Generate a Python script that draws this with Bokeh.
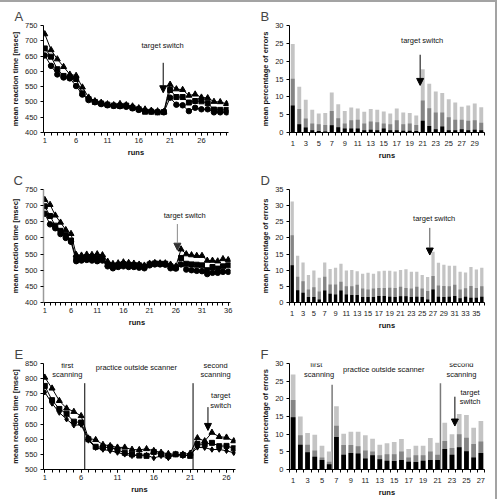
from bokeh.plotting import figure
from bokeh.layouts import column, row
from bokeh.models import FixedTicker, Arrow, NormalHead, Label, Spacer, AllLabels
from bokeh.embed import file_html
from bokeh.resources import INLINE

FONT = "Liberation Sans"
LIGHT = "#c4c4c4"
DARK = "#858585"
BLACK = "#000000"
FRAME_GRAY = "#a3a3a3"

# ---------------- Experiment 1 (panels A, B) ----------------
runs_1 = list(range(1, 31))
rt1_high = [722, 670, 640, 615, 590, 586, 548, 515, 503, 498, 493, 490, 494, 490, 486,
            480, 476, 472, 470, 468, 557, 542, 540, 521, 525, 515, 513, 501, 500, 494]
rt1_mid = [675, 648, 607, 585, 580, 575, 528, 509, 500, 495, 491, 488, 487, 488, 481,
           476, 468, 468, 466, 467, 539, 516, 516, 498, 503, 502, 496, 475, 474, 474]
rt1_low = [652, 618, 590, 580, 577, 552, 524, 506, 499, 493, 489, 487, 486, 484, 479,
           474, 471, 469, 467, 466, 514, 491, 489, 470, 481, 476, 476, 466, 466, 466]
err1_black = [7.6, 2.3, 1.4, 0.6, 0.4, 0.3, 2.0, 1.5, 1.1, 1.1, 1.1, 0.6, 0.8, 0.6, 1.1,
              0.6, 0.6, 0.5, 0.5, 0.4, 3.3, 1.8, 0.9, 1.7, 0.6, 0.6, 0.9, 0.6, 0.8, 0.6]
err1_dark = [15.1, 6.6, 3.9, 2.5, 2.3, 2.1, 6.0, 4.0, 2.5, 3.4, 3.6, 2.5, 3.1, 2.9, 2.5,
             2.3, 3.4, 2.3, 2.5, 2.1, 9.0, 6.8, 5.6, 5.6, 4.3, 3.6, 3.6, 3.3, 3.4, 2.7]
err1_light = [24.8, 12.8, 9.2, 6.4, 5.3, 5.5, 11.2, 7.9, 6.0, 7.0, 6.7, 5.8, 6.6, 6.4, 5.9,
              5.3, 6.7, 5.6, 5.5, 4.8, 17.7, 13.7, 11.5, 11.1, 9.3, 8.4, 7.2, 7.6, 8.1, 7.1]

# ---------------- Experiment 2 (panels C, D) ----------------
runs_2 = list(range(1, 37))
rt2_high = [718, 703, 670, 648, 625, 613, 548, 546, 549, 548, 550, 547, 527, 520, 522, 525, 523, 521,
            518, 515, 521, 523, 522, 522, 518, 512, 565, 550, 547, 545, 545, 530, 530, 528, 535, 532]
rt2_mid = [698, 668, 638, 622, 610, 592, 537, 536, 540, 538, 537, 538, 518, 513, 516, 519, 517, 516,
           515, 511, 518, 521, 520, 520, 512, 508, 538, 520, 518, 517, 515, 500, 510, 505, 512, 515]
rt2_low = [675, 642, 630, 612, 600, 588, 528, 530, 532, 530, 528, 530, 512, 506, 510, 512, 510, 510,
           508, 506, 515, 518, 518, 517, 506, 505, 518, 502, 500, 498, 497, 488, 492, 492, 495, 495]
err2_black = [11.5, 3.8, 3.0, 1.7, 1.7, 0.9, 3.7, 2.7, 2.5, 3.7, 2.5, 2.3, 2.3, 1.7, 1.7, 1.7, 2.0, 2.0,
              1.8, 1.7, 1.9, 1.9, 1.7, 1.8, 1.7, 0.9, 4.0, 1.8, 1.7, 1.8, 2.0, 1.3, 1.8, 1.5, 1.5, 1.8]
err2_dark = [20.8, 8.0, 6.6, 4.0, 4.7, 3.4, 8.0, 5.6, 5.6, 6.4, 5.0, 5.0, 5.5, 4.3, 4.0, 4.3, 4.5, 4.5,
             4.6, 4.5, 4.9, 4.5, 4.3, 4.9, 4.3, 3.6, 8.2, 5.3, 5.1, 5.0, 5.5, 4.0, 4.4, 5.1, 4.5, 5.0]
err2_light = [31.3, 14.5, 12.4, 8.5, 9.9, 7.7, 12.4, 10.4, 10.8, 12.0, 9.9, 10.1, 9.7, 8.9, 9.2, 8.9, 9.7, 9.8,
              9.8, 9.6, 10.1, 10.3, 9.5, 9.5, 8.5, 7.9, 15.7, 12.3, 11.7, 11.4, 11.4, 9.5, 9.3, 11.0, 10.2, 10.8]

# ---------------- Experiment 3 (panels E, F) ----------------
runs_3 = list(range(1, 28))
rt3_high = [804, 768, 727, 702, 691, 677, 603, 598, 582, 578, 573, 573, 566, 565,
            568, 562, 556, 552, 550, 550, 553, 604, 594, 622, 608, 606, 594]
rt3_mid = [776, 729, 700, 684, 658, 655, 600, 575, 573, 573, 565, 555, 550, 546,
           545, 558, 550, 545, 550, 548, 545, 584, 583, 588, 577, 578, 570]
rt3_low = [755, 718, 688, 666, 646, 648, 596, 572, 566, 562, 556, 550, 545, 548,
           548, 538, 545, 538, 550, 545, 548, 573, 572, 566, 566, 562, 555]
err3_black = [14.8, 7.0, 4.9, 3.6, 2.7, 1.5, 9.2, 4.2, 4.7, 4.5, 3.1, 4.0, 2.9, 2.5,
              2.4, 2.7, 2.2, 2.1, 2.5, 2.7, 2.7, 5.8, 4.2, 6.3, 5.2, 3.4, 4.7]
err3_dark = [19.7, 9.7, 7.0, 5.4, 3.4, 2.2, 12.4, 6.9, 6.9, 6.6, 5.4, 5.1, 4.0, 4.3,
             4.3, 5.1, 3.4, 4.0, 4.0, 5.1, 4.2, 8.1, 6.1, 10.0, 9.0, 7.2, 7.9]
err3_light = [26.9, 15.0, 10.3, 9.8, 6.7, 5.1, 17.9, 10.1, 10.7, 10.7, 9.7, 8.7, 7.0, 7.4,
              7.8, 8.6, 5.8, 6.7, 6.7, 8.9, 7.6, 13.2, 10.0, 15.7, 15.4, 11.8, 13.7]
phase_bounds_rt = [6.5, 21.4]
phase_bounds_err = [6.4, 21.4]


def make_fig(w, h, lead, left, right, top, bottom, xr, yr, letter, ylabel, standoff=4):
    p = figure(width=w, height=h, x_range=xr, y_range=yr, title=letter,
               output_backend="svg", toolbar_location=None,
               min_border_left=left, min_border_right=right,
               min_border_top=top, min_border_bottom=bottom)
    p.title.text_font = FONT
    p.title.text_font_size = "13px"
    p.title.text_font_style = "normal"
    p.title.align = "left"
    p.title.offset = 12 - (lead + left)
    p.title.standoff = standoff
    p.xgrid.visible = False
    p.ygrid.visible = False
    p.outline_line_color = None
    for ax in (p.xaxis[0], p.yaxis[0]):
        ax.axis_line_color = BLACK
        ax.axis_line_width = 1
        ax.major_tick_line_color = BLACK
        ax.major_tick_in = 0
        ax.major_tick_out = 3
        ax.minor_tick_in = 0
        ax.minor_tick_out = 3
        ax.minor_tick_line_color = BLACK
        ax.major_label_text_font = FONT
        ax.major_label_text_font_size = "7.5px"
        ax.major_label_text_color = "#222222"
        ax.major_label_policy = AllLabels()
        ax.axis_label_text_font = FONT
        ax.axis_label_text_font_size = "7.5px"
        ax.axis_label_text_font_style = "bold"
        ax.axis_label_text_color = "#111111"
        ax.major_label_standoff = 3
        ax.axis_label_standoff = 2
    p.xaxis.major_label_standoff = 2
    p.xaxis.axis_label_standoff = 2
    p.yaxis.minor_tick_line_color = None
    p.yaxis.axis_label = ylabel
    p.xaxis.axis_label = "runs"
    return p


def rt_lines(p, x, high, mid, low, low_marker="circle"):
    for ys, marker, size in ((high, "triangle", 6), (mid, "square", 5), (low, low_marker, 5.5)):
        p.line(x, ys, line_color=BLACK, line_width=1)
        p.scatter(x, ys, marker=marker, size=size, fill_color=BLACK, line_color=BLACK)


def err_bars(p, x, black, dark, light, width=0.6):
    p.vbar(x=x, top=light, width=width, fill_color=LIGHT, line_color=None)
    p.vbar(x=x, top=dark, width=width, fill_color=DARK, line_color=None)
    p.vbar(x=x, top=black, width=width, fill_color=BLACK, line_color=None)


def line_xaxis(p, n, label_every=5):
    p.xaxis.ticker = FixedTicker(ticks=list(range(1, n + 1, label_every)),
                                 minor_ticks=list(range(1, n + 1)))


def bar_xaxis(p, n):
    p.xaxis.ticker = FixedTicker(ticks=list(range(1, n + 1, 2)),
                                 minor_ticks=[k + 0.5 for k in range(0, n + 1)])
    p.xaxis.major_tick_out = 0
    p.xaxis.major_tick_line_color = None
    p.xaxis.major_label_standoff = 5


def note(p, x, y, text, size="7.5px"):
    p.add_layout(Label(x=x, y=y, text=text, text_align="center", text_baseline="middle",
                       text_font=FONT, text_font_size=size, text_color="#111111"))


def arrow(p, x, y0, y1, color=BLACK, head=BLACK):
    p.add_layout(Arrow(end=NormalHead(size=7, fill_color=head, line_color=head),
                       x_start=x, y_start=y0, x_end=x, y_end=y1,
                       line_color=color, line_width=1))


RT_LABEL = "mean reaction time [msec]"
ERR_LABEL = "mean percentage of errors"
LEAD_L = 7    # blank strip left of the reaction-time panels
LEAD_R = 13   # blank strip left of the error panels
EDGE = 2      # grey page frame along the top and right

# Panel A
pA = make_fig(245 - LEAD_L, 162 - EDGE, LEAD_L, 41 - LEAD_L, 17, 24 - EDGE, 30,
              (0.795, 30.32), (400, 750), "A", RT_LABEL)
pA.yaxis.ticker = FixedTicker(ticks=list(range(400, 751, 50)))
line_xaxis(pA, 30)
rt_lines(pA, runs_1, rt1_high, rt1_mid, rt1_low)
note(pA, 19.8, 684, "target switch")
arrow(pA, 19.9, 628, 530)

# Panel B
pB = make_fig(252 - LEAD_R - EDGE, 162 - EDGE, LEAD_R, 41 - LEAD_R, 13 - EDGE, 25 - EDGE, 30,
              (0.5, 30.5), (0, 30), "B", ERR_LABEL)
pB.yaxis.ticker = FixedTicker(ticks=list(range(0, 31, 5)))
bar_xaxis(pB, 30)
err_bars(pB, runs_1, err1_black, err1_dark, err1_light)
note(pB, 20.9, 25.7, "target switch")
arrow(pB, 20.6, 21.8, 13.2)

# Panel C
pC = make_fig(245 - LEAD_L, 170, LEAD_L, 42 - LEAD_L, 15, 27, 26, (0.75, 36.44), (400, 750), "C", RT_LABEL)
pC.yaxis.ticker = FixedTicker(ticks=list(range(400, 751, 50)))
pC.yaxis.axis_line_color = "#9a9a9a"
pC.yaxis.axis_line_width = 1.5
line_xaxis(pC, 36)
rt_lines(pC, runs_2, rt2_high, rt2_mid, rt2_low)
note(pC, 27.7, 668, "target switch")
arrow(pC, 26.3, 643, 562, color="#8a8a8a", head="#333333")

# Panel D
pD = make_fig(252 - LEAD_R - EDGE, 170, LEAD_R, 41 - LEAD_R, 13 - EDGE, 24, 26,
              (0.5, 36.5), (0, 35), "D", ERR_LABEL)
pD.yaxis.ticker = FixedTicker(ticks=list(range(0, 36, 5)))
bar_xaxis(pD, 36)
err_bars(pD, runs_2, err2_black, err2_dark, err2_light)
note(pD, 27.2, 25.9, "target switch")
arrow(pD, 26.4, 23.1, 14.7, color="#555555")

# Panel E
pE = make_fig(245 - LEAD_L, 167, LEAD_L, 41 - LEAD_L, 10, 31, 26, (0.823, 27.24), (500, 850), "E", RT_LABEL)
pE.yaxis.ticker = FixedTicker(ticks=list(range(500, 851, 50)))
line_xaxis(pE, 27)
pE.segment(x0=phase_bounds_rt, y0=[500, 500], x1=phase_bounds_rt, y1=[785, 785],
           line_color=BLACK, line_width=1)
rt_lines(pE, runs_3, rt3_high, rt3_mid, rt3_low, low_marker="diamond")
note(pE, 4.1, 843, "first")
note(pE, 4.1, 813, "scanning")
note(pE, 13.6, 838, "practice outside scanner")
note(pE, 24.5, 843, "second")
note(pE, 24.5, 813, "scanning")
note(pE, 25.2, 743, "target")
note(pE, 25.2, 711, "switch")
arrow(pE, 23.45, 706, 629)

# Panel F
pF = make_fig(252 - LEAD_R - EDGE, 167, LEAD_R, 41 - LEAD_R, 13 - EDGE, 30, 26,
              (0.5, 27.5), (0, 30), "F", ERR_LABEL)
pF.yaxis.ticker = FixedTicker(ticks=list(range(0, 31, 5)))
bar_xaxis(pF, 27)
pF.segment(x0=phase_bounds_err, y0=[0, 0], x1=phase_bounds_err, y1=[24, 24.4],
           line_color="#7a7a7a", line_width=1.5)
err_bars(pF, runs_3, err3_black, err3_dark, err3_light, width=0.65)
note(pF, 4.2, 29.6, "first")
note(pF, 4.6, 26.9, "scanning")
note(pF, 13.55, 28.4, "practice outside scanner")
note(pF, 24.3, 29.6, "second")
note(pF, 24.3, 26.9, "scanning")
note(pF, 25.5, 21.8, "target")
note(pF, 25.5, 19.2, "switch")
arrow(pF, 23.4, 20.6, 12.3)


def strip(w, h):
    return Spacer(width=w, height=h)


layout = column(
    row(strip(LEAD_L, 162 - EDGE), pA, strip(LEAD_R, 162 - EDGE), pB),
    row(strip(LEAD_L, 170), pC, strip(LEAD_R, 170), pD),
    row(strip(LEAD_L, 167), pE, strip(LEAD_R, 167), pF),
    styles={"border-top": f"{EDGE}px solid {FRAME_GRAY}",
            "border-right": f"{EDGE}px solid {FRAME_GRAY}"},
)
open("out.html", "w").write(file_html(layout, INLINE))
